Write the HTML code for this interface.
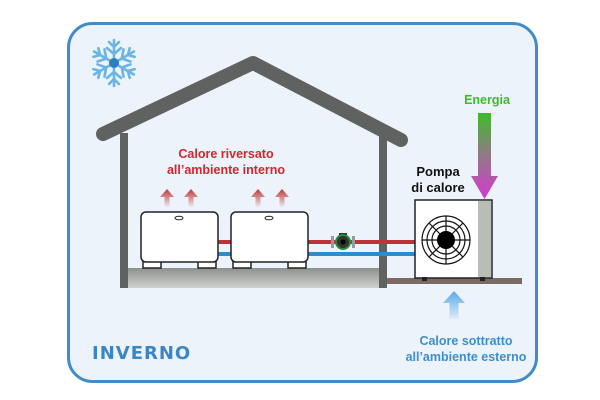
<!DOCTYPE html>
<html><head><meta charset="utf-8"><style>
html,body{margin:0;padding:0;background:#fff;width:600px;height:400px;overflow:hidden}
svg{display:block}
text{font-family:"Liberation Sans",sans-serif;font-weight:bold}
</style></head><body>
<svg width="600" height="400" viewBox="0 0 600 400" xmlns="http://www.w3.org/2000/svg">
<defs>
<linearGradient id="floor" x1="0" y1="0" x2="0" y2="1"><stop offset="0" stop-color="#8e908d"/><stop offset="1" stop-color="#d0d2cf"/></linearGradient>
<linearGradient id="en" x1="0" y1="0" x2="0" y2="1"><stop offset="0" stop-color="#3cbb2a"/><stop offset="0.45" stop-color="#8c7e80"/><stop offset="1" stop-color="#d43ad0"/></linearGradient>
<linearGradient id="red" x1="0" y1="0" x2="0" y2="1"><stop offset="0" stop-color="#c0373a"/><stop offset="1" stop-color="#c0373a" stop-opacity="0.05"/></linearGradient>
<linearGradient id="blu" x1="0" y1="0" x2="0" y2="1"><stop offset="0" stop-color="#5aaae6"/><stop offset="1" stop-color="#5aaae6" stop-opacity="0.1"/></linearGradient>
</defs>
<rect x="68.5" y="23.5" width="468" height="358" rx="24" fill="#edf3fb" stroke="#418bc9" stroke-width="3"/>
<g transform="translate(114,63)" stroke="#6cb4e4" stroke-width="2.6" stroke-linecap="round" fill="none">
<g id="arm"><line x1="0" y1="0" x2="0" y2="-23"/><line x1="0" y1="-9" x2="-7" y2="-15"/><line x1="0" y1="-9" x2="7" y2="-15"/><line x1="0" y1="-16" x2="-5" y2="-21"/><line x1="0" y1="-16" x2="5" y2="-21"/></g>
<use href="#arm" transform="rotate(60)"/><use href="#arm" transform="rotate(120)"/><use href="#arm" transform="rotate(180)"/><use href="#arm" transform="rotate(240)"/><use href="#arm" transform="rotate(300)"/>
<circle r="5" fill="#2a7fc0" stroke="none"/>
</g>
<rect x="128" y="268" width="252" height="20" fill="url(#floor)"/>
<rect x="387" y="278" width="135" height="6" fill="#7b6966"/>
<polyline points="103,134 253,63 401,140" fill="none" stroke="#606262" stroke-width="14" stroke-linecap="round" stroke-linejoin="round"/>
<rect x="120" y="133" width="8" height="155" fill="#606262"/>
<rect x="379" y="135" width="8" height="153" fill="#606262"/>
<rect x="217" y="240" width="198" height="4" fill="#c0323a"/>
<rect x="217" y="252" width="198" height="4" fill="#2e8cc8"/>
<g fill="#fff" stroke="#222" stroke-width="1.5">
<rect x="143" y="261" width="18" height="7"/><rect x="198" y="261" width="18" height="7"/>
<rect x="141" y="212" width="77" height="50" rx="5"/>
<rect x="233" y="261" width="18" height="7"/><rect x="288" y="261" width="18" height="7"/>
<rect x="231" y="212" width="77" height="50" rx="5"/>
<ellipse cx="179" cy="218" rx="4" ry="1.8" stroke-width="1"/><ellipse cx="269" cy="218" rx="4" ry="1.8" stroke-width="1"/>
</g>
<rect x="331" y="236" width="3" height="12" fill="#999"/><rect x="352" y="236" width="3" height="12" fill="#999"/>
<rect x="339" y="233" width="8" height="4" fill="#333"/>
<circle cx="343" cy="242" r="7" fill="#333" stroke="#2a8a3a" stroke-width="2"/><circle cx="343" cy="242" r="2.5" fill="#000"/>
<g fill="url(#red)">
<path d="M167,189 l-7,8 h4.5 v10 h5 v-10 h4.5 z"/><path d="M191,189 l-7,8 h4.5 v10 h5 v-10 h4.5 z"/>
<path d="M258,189 l-7,8 h4.5 v10 h5 v-10 h4.5 z"/><path d="M282,189 l-7,8 h4.5 v10 h5 v-10 h4.5 z"/>
</g>
<text x="226" y="158" font-size="12.5" fill="#d2262e" text-anchor="middle">Calore riversato</text>
<text x="226" y="174" font-size="12.5" fill="#d2262e" text-anchor="middle">all’ambiente interno</text>
<rect x="415" y="200" width="77" height="78" fill="#fff" stroke="#222" stroke-width="1.5"/>
<rect x="478" y="201" width="13" height="76" fill="#b8bdb5"/>
<rect x="422" y="277" width="5" height="4" fill="#222"/><rect x="480" y="277" width="5" height="4" fill="#222"/>
<g fill="none" stroke="#111" stroke-width="1.2">
<circle cx="446" cy="240" r="24"/><circle cx="446" cy="240" r="19"/><circle cx="446" cy="240" r="14"/>
<line x1="422" y1="240" x2="470" y2="240"/><line x1="446" y1="216" x2="446" y2="264"/>
<line x1="429" y1="223" x2="463" y2="257"/><line x1="463" y1="223" x2="429" y2="257"/>
</g>
<circle cx="446" cy="240" r="9" fill="#000"/>
<text x="438" y="176" font-size="13" fill="#111" text-anchor="middle">Pompa</text>
<text x="438" y="192" font-size="13" fill="#111" text-anchor="middle">di calore</text>
<text x="487" y="104" font-size="12.5" fill="#3cbb2a" text-anchor="middle">Energia</text>
<path d="M478,113 h13 v63 h7 l-13.5,23 l-13.5,-23 h7 z" fill="url(#en)"/>
<path d="M454,291 l-11,12 h6.5 v16 h9 v-16 h6.5 z" fill="url(#blu)"/>
<text x="466" y="345" font-size="12.5" fill="#3b8fd0" text-anchor="middle">Calore sottratto</text>
<text x="466" y="361" font-size="12.5" fill="#3b8fd0" text-anchor="middle">all’ambiente esterno</text>
<text x="92" y="359" font-size="18" fill="#3d86c6" letter-spacing="1" style="font-family:'DejaVu Sans',sans-serif">INVERNO</text>
</svg>
</body></html>
